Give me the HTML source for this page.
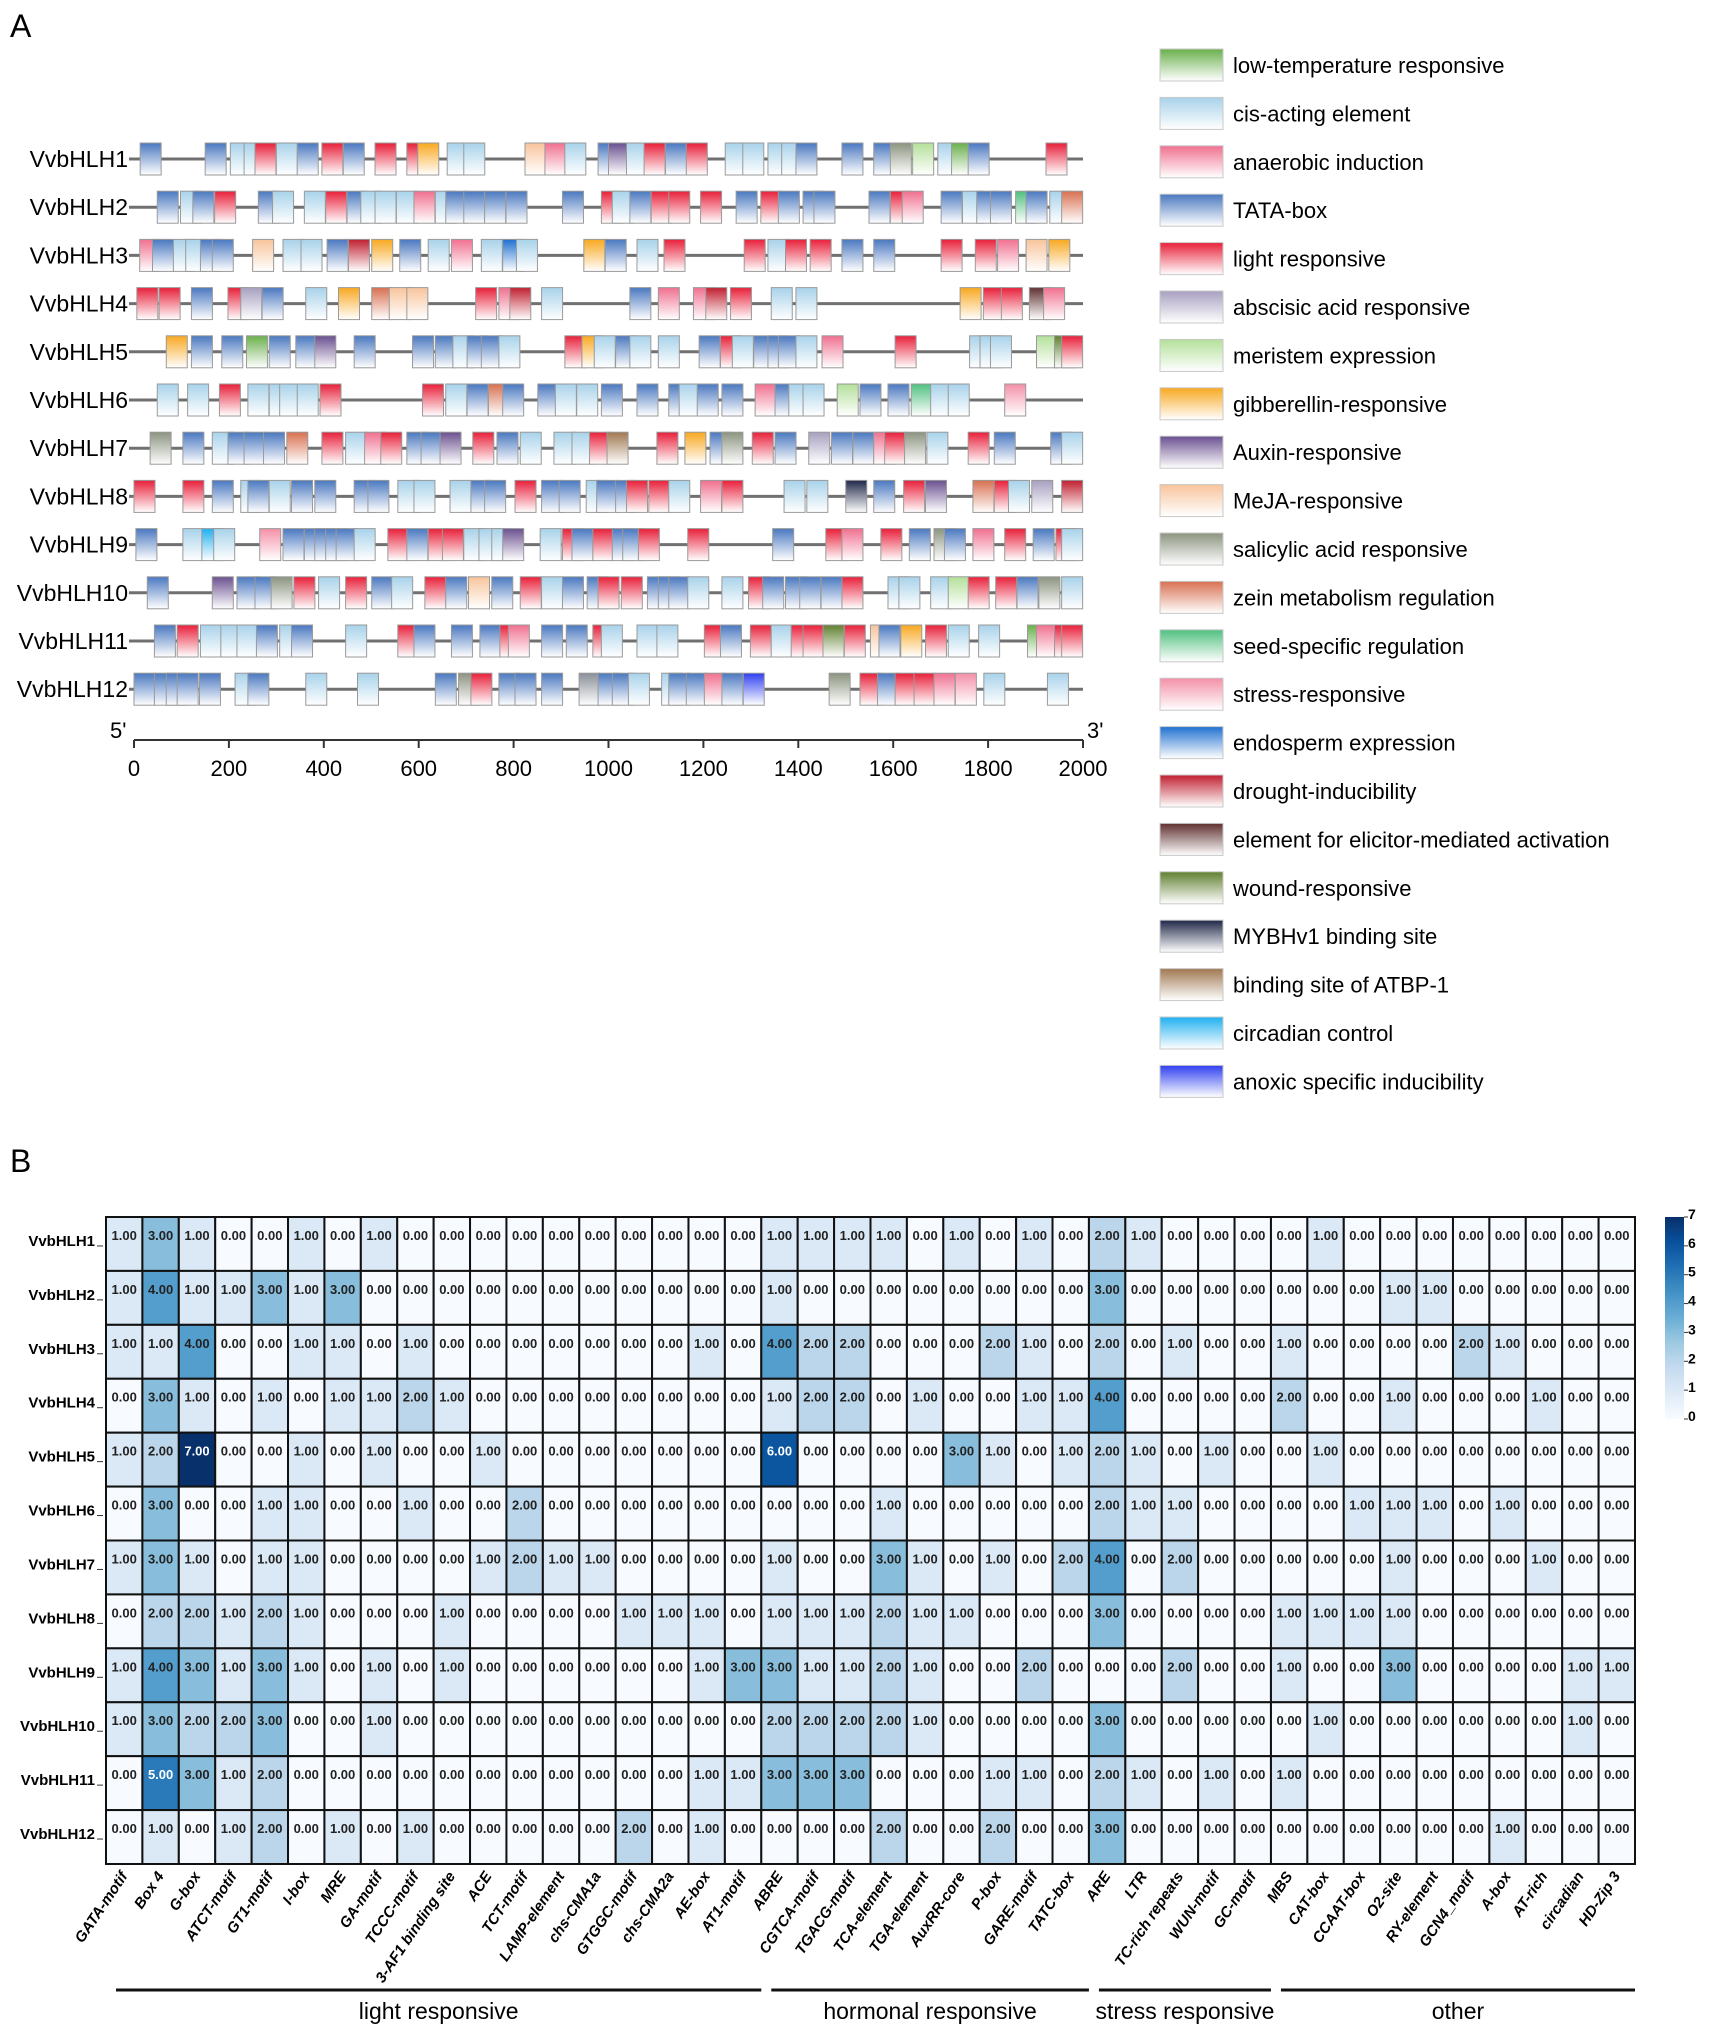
<!DOCTYPE html>
<html><head><meta charset="utf-8">
<style>
html,body{margin:0;padding:0;background:#fff;}
svg{display:block;font-family:"Liberation Sans",Arial,sans-serif;}
</style></head>
<body>
<svg id="fig" width="1713" height="2033" viewBox="0 0 1713 2033" xmlns="http://www.w3.org/2000/svg">
<defs id="defs"></defs>
<text x="10" y="37" font-size="32">A</text>
<text x="10" y="1172" font-size="32">B</text>
<g id="panelA"></g>
<g id="legend"></g>
<g id="panelB"></g>
</svg>
<script>
// ---------- Panel A data ----------
const genes = ["VvbHLH1","VvbHLH2","VvbHLH3","VvbHLH4","VvbHLH5","VvbHLH6","VvbHLH7","VvbHLH8","VvbHLH9","VvbHLH10","VvbHLH11","VvbHLH12"];
const axisTicks = [0,200,400,600,800,1000,1200,1400,1600,1800,2000];
const legendNames = ["low-temperature responsive","cis-acting element","anaerobic induction","TATA-box","light responsive","abscisic acid responsive","meristem expression","gibberellin-responsive","Auxin-responsive","MeJA-responsive","salicylic acid responsive","zein metabolism regulation","seed-specific regulation","stress-responsive","endosperm expression","drought-inducibility","element for elicitor-mediated activation","wound-responsive","MYBHv1 binding site","binding site of ATBP-1","circadian control","anoxic specific inducibility"];
const legendCodes = ["Lt","C","A","T","L","Ab","Me","G","X","M","S","Z","Sd","St","E","D","El","W","My","At","Ci","An"];
const typeColors = {Lt:"#6ab04c",C:"#a8d2ea",A:"#f07090",T:"#4a78c0",L:"#e8203a",Ab:"#a8a0c0",Me:"#b4e09a",G:"#f8a820",X:"#6a5090",M:"#f8c49c",S:"#8c9480",Z:"#d87050",Sd:"#50c080",St:"#f490a8",E:"#2070d0",D:"#c02030",El:"#603030",W:"#608030",My:"#202848",At:"#a07850",Ci:"#20b0f0",An:"#3040f0",Gr:"#8a9098"};
const el1 = [[13,"T"],[150,"T"],[203,"C"],[232,"C"],[255,"L"],[300,"C"],[344,"T"],[396,"L"],[441,"T"],[508,"L"],[575,"L"],[598,"G"],[660,"C"],[695,"C"],[824,"M"],[866,"A"],[908,"C"],[978,"T"],[1000,"X"],[1038,"C"],[1075,"L"],[1120,"T"],[1164,"L"],[1246,"C"],[1283,"C"],[1336,"C"],[1365,"C"],[1395,"T"],[1492,"T"],[1559,"T"],[1594,"S"],[1641,"Me"],[1694,"C"],[1723,"Lt"],[1758,"T"],[1922,"L"]];
const el2 = [[49,"T"],[98,"C"],[124,"T"],[170,"L"],[262,"T"],[292,"C"],[359,"C"],[404,"L"],[449,"T"],[478,"C"],[508,"C"],[553,"C"],[590,"A"],[635,"C"],[657,"T"],[695,"T"],[739,"T"],[784,"T"],[903,"T"],[985,"L"],[1008,"C"],[1045,"T"],[1090,"L"],[1127,"L"],[1194,"L"],[1269,"T"],[1321,"L"],[1358,"T"],[1410,"T"],[1433,"T"],[1549,"T"],[1594,"L"],[1619,"A"],[1701,"T"],[1746,"C"],[1776,"T"],[1805,"T"],[1858,"Sd"],[1880,"T"],[1930,"C"],[1955,"Z"]];
const el3 = [[12,"A"],[39,"T"],[83,"C"],[109,"C"],[140,"T"],[165,"T"],[250,"M"],[314,"C"],[352,"C"],[407,"T"],[452,"D"],[501,"G"],[560,"T"],[620,"C"],[669,"A"],[732,"C"],[777,"E"],[806,"C"],[948,"G"],[993,"T"],[1060,"C"],[1117,"L"],[1286,"L"],[1336,"C"],[1373,"L"],[1425,"L"],[1492,"T"],[1559,"T"],[1701,"L"],[1773,"L"],[1820,"A"],[1880,"M"],[1928,"G"]];
const el4 = [[6,"L"],[53,"L"],[121,"T"],[198,"L"],[225,"Ab"],[270,"T"],[362,"C"],[431,"G"],[501,"Z"],[538,"M"],[575,"M"],[720,"L"],[769,"A"],[792,"D"],[859,"C"],[1045,"T"],[1105,"A"],[1179,"A"],[1205,"D"],[1257,"L"],[1343,"C"],[1395,"C"],[1741,"G"],[1790,"L"],[1828,"L"],[1887,"El"],[1917,"A"]];
const el5 = [[68,"G"],[121,"T"],[185,"T"],[237,"Lt"],[285,"T"],[341,"T"],[381,"X"],[464,"T"],[587,"T"],[635,"T"],[672,"C"],[702,"T"],[732,"T"],[769,"C"],[908,"L"],[944,"G"],[970,"C"],[1015,"T"],[1045,"C"],[1105,"C"],[1191,"T"],[1236,"L"],[1261,"C"],[1306,"T"],[1336,"T"],[1358,"T"],[1395,"C"],[1450,"A"],[1604,"L"],[1761,"C"],[1783,"C"],[1805,"C"],[1902,"Me"],[1940,"W"],[1955,"L"]];
const el6 = [[49,"C"],[113,"C"],[180,"L"],[240,"C"],[285,"C"],[307,"C"],[344,"C"],[392,"L"],[608,"L"],[657,"C"],[702,"T"],[747,"Z"],[777,"T"],[851,"T"],[888,"C"],[933,"C"],[985,"T"],[1060,"T"],[1127,"T"],[1149,"C"],[1187,"T"],[1239,"T"],[1309,"A"],[1351,"T"],[1380,"C"],[1410,"C"],[1482,"Me"],[1530,"T"],[1589,"T"],[1638,"Sd"],[1679,"C"],[1716,"C"],[1835,"St"]];
const el7 = [[34,"S"],[103,"T"],[165,"C"],[198,"T"],[232,"T"],[273,"T"],[322,"Z"],[396,"L"],[446,"C"],[486,"A"],[520,"L"],[575,"T"],[605,"T"],[645,"X"],[714,"L"],[765,"T"],[814,"C"],[885,"C"],[923,"C"],[960,"L"],[997,"At"],[1102,"L"],[1161,"G"],[1214,"T"],[1239,"S"],[1303,"L"],[1351,"T"],[1422,"Ab"],[1470,"T"],[1515,"T"],[1559,"A"],[1582,"L"],[1624,"S"],[1671,"C"],[1758,"L"],[1813,"T"],[1932,"T"],[1955,"C"]];
const el8 = [[0,"L"],[103,"L"],[165,"T"],[225,"C"],[240,"T"],[285,"C"],[332,"T"],[381,"T"],[464,"T"],[493,"T"],[556,"C"],[590,"C"],[666,"C"],[710,"T"],[739,"T"],[803,"L"],[859,"T"],[896,"T"],[953,"C"],[975,"T"],[1015,"T"],[1038,"L"],[1085,"L"],[1127,"C"],[1194,"A"],[1239,"L"],[1370,"C"],[1418,"C"],[1500,"My"],[1559,"T"],[1622,"L"],[1668,"X"],[1768,"Z"],[1813,"L"],[1843,"C"],[1892,"Ab"],[1955,"D"]];
const el9 = [[4,"T"],[103,"C"],[143,"Ci"],[168,"C"],[265,"St"],[314,"T"],[359,"T"],[381,"T"],[404,"T"],[426,"T"],[464,"C"],[535,"L"],[575,"T"],[620,"L"],[650,"L"],[695,"C"],[727,"C"],[754,"C"],[777,"X"],[856,"C"],[903,"L"],[923,"T"],[967,"L"],[1008,"T"],[1030,"T"],[1063,"L"],[1167,"L"],[1346,"T"],[1458,"L"],[1492,"A"],[1574,"L"],[1634,"T"],[1686,"S"],[1708,"T"],[1768,"A"],[1835,"L"],[1895,"T"],[1943,"L"],[1955,"C"]];
const el10 = [[28,"T"],[165,"X"],[217,"T"],[255,"T"],[289,"S"],[337,"L"],[389,"C"],[446,"L"],[501,"T"],[543,"C"],[613,"L"],[657,"T"],[705,"M"],[754,"T"],[814,"L"],[859,"C"],[903,"T"],[955,"T"],[978,"L"],[1027,"L"],[1082,"T"],[1105,"T"],[1127,"T"],[1167,"C"],[1239,"C"],[1295,"L"],[1325,"T"],[1373,"T"],[1403,"T"],[1448,"T"],[1492,"L"],[1589,"C"],[1612,"C"],[1679,"C"],[1716,"Me"],[1758,"L"],[1816,"L"],[1861,"T"],[1907,"S"],[1955,"C"]];
const el11 = [[43,"T"],[91,"L"],[140,"C"],[183,"C"],[217,"C"],[258,"T"],[307,"C"],[332,"T"],[446,"C"],[556,"L"],[590,"T"],[669,"T"],[729,"T"],[771,"L"],[789,"A"],[859,"T"],[911,"T"],[967,"L"],[985,"C"],[1060,"C"],[1102,"C"],[1202,"L"],[1236,"T"],[1299,"L"],[1343,"C"],[1385,"L"],[1410,"L"],[1452,"W"],[1497,"L"],[1552,"M"],[1570,"T"],[1616,"G"],[1668,"L"],[1716,"C"],[1780,"C"],[1883,"Lt"],[1902,"A"],[1940,"L"],[1955,"L"]];
const el12 = [[0,"T"],[43,"T"],[68,"T"],[91,"T"],[138,"T"],[213,"C"],[240,"T"],[362,"C"],[471,"C"],[635,"T"],[684,"S"],[710,"L"],[769,"T"],[803,"T"],[859,"T"],[938,"Gr"],[978,"T"],[1008,"T"],[1042,"C"],[1112,"C"],[1127,"T"],[1164,"T"],[1202,"A"],[1239,"T"],[1284,"An"],[1465,"S"],[1530,"L"],[1567,"T"],[1604,"L"],[1644,"L"],[1686,"A"],[1731,"St"],[1791,"C"],[1925,"C"]];
const elements = [el1,el2,el3,el4,el5,el6,el7,el8,el9,el10,el11,el12];

// ---------- Panel B data ----------
const heatRows = ["VvbHLH1","VvbHLH2","VvbHLH3","VvbHLH4","VvbHLH5","VvbHLH6","VvbHLH7","VvbHLH8","VvbHLH9","VvbHLH10","VvbHLH11","VvbHLH12"];
const heatCols = ["GATA-motif","Box 4","G-box","ATCT-motif","GT1-motif","I-box","MRE","GA-motif","TCCC-motif","3-AF1 binding site","ACE","TCT-motif","LAMP-element","chs-CMA1a","GTGGC-motif","chs-CMA2a","AE-box","AT1-motif","ABRE","CGTCA-motif","TGACG-motif","TCA-element","TGA-element","AuxRR-core","P-box","GARE-motif","TATC-box","ARE","LTR","TC-rich repeats","WUN-motif","GC-motif","MBS","CAT-box","CCAAT-box","O2-site","RY-element","GCN4_motif","A-box","AT-rich","circadian","HD-Zip 3"];
const v1  = [1,3,1,0,0,1,0,1,0,0,0,0,0,0,0,0,0,0,1,1,1, 1,0,1,0,1,0,2,1,0,0,0,0,1,0,0,0,0,0,0,0,0];
const v2  = [1,4,1,1,3,1,3,0,0,0,0,0,0,0,0,0,0,0,1,0,0, 0,0,0,0,0,0,3,0,0,0,0,0,0,0,1,1,0,0,0,0,0];
const v3  = [1,1,4,0,0,1,1,0,1,0,0,0,0,0,0,0,1,0,4,2,2, 0,0,0,2,1,0,2,0,1,0,0,1,0,0,0,0,2,1,0,0,0];
const v4  = [0,3,1,0,1,0,1,1,2,1,0,0,0,0,0,0,0,0,1,2,2, 0,1,0,0,1,1,4,0,0,0,0,2,0,0,1,0,0,0,1,0,0];
const v5  = [1,2,7,0,0,1,0,1,0,0,1,0,0,0,0,0,0,0,6,0,0, 0,0,3,1,0,1,2,1,0,1,0,0,1,0,0,0,0,0,0,0,0];
const v6  = [0,3,0,0,1,1,0,0,1,0,0,2,0,0,0,0,0,0,0,0,0, 1,0,0,0,0,0,2,1,1,0,0,0,0,1,1,1,0,1,0,0,0];
const v7  = [1,3,1,0,1,1,0,0,0,0,1,2,1,1,0,0,0,0,1,0,0, 3,1,0,1,0,2,4,0,2,0,0,0,0,0,1,0,0,0,1,0,0];
const v8  = [0,2,2,1,2,1,0,0,0,1,0,0,0,0,1,1,1,0,1,1,1, 2,1,1,0,0,0,3,0,0,0,0,1,1,1,1,0,0,0,0,0,0];
const v9  = [1,4,3,1,3,1,0,1,0,1,0,0,0,0,0,0,1,3,3,1,1, 2,1,0,0,2,0,0,0,2,0,0,1,0,0,3,0,0,0,0,1,1];
const v10 = [1,3,2,2,3,0,0,1,0,0,0,0,0,0,0,0,0,0,2,2,2, 2,1,0,0,0,0,3,0,0,0,0,0,1,0,0,0,0,0,0,1,0];
const v11 = [0,5,3,1,2,0,0,0,0,0,0,0,0,0,0,0,1,1,3,3,3, 0,0,0,1,1,0,2,1,0,1,0,1,0,0,0,0,0,0,0,0,0];
const v12 = [0,1,0,1,2,0,1,0,1,0,0,0,0,0,2,0,1,0,0,0,0, 2,0,0,2,0,0,3,0,0,0,0,0,0,0,0,0,0,1,0,0,0];
const heatValues = [v1,v2,v3,v4,v5,v6,v7,v8,v9,v10,v11,v12];
const colorbarTicks = [0,1,2,3,4,5,6,7];
const groupNames = ["light responsive","hormonal responsive","stress  responsive","other"];
const groupStartCol = [0,18,27,32];
const groupEndCol = [17,26,31,41];

const NS="http://www.w3.org/2000/svg";
function mk(tag, attrs, parent){const e=document.createElementNS(NS,tag);for(const k in attrs)e.setAttribute(k,attrs[k]);parent.appendChild(e);return e;}
const defs=document.getElementById('defs');
for(const code in typeColors){
  const g=mk('linearGradient',{id:'g_'+code,x1:0,y1:0,x2:0,y2:1},defs);
  mk('stop',{offset:'0','stop-color':typeColors[code]},g);
  mk('stop',{offset:'1','stop-color':'#ffffff'},g);
}

// ---------- Panel A ----------
const A=document.getElementById('panelA');
const ax0=134, ax1=1083, bpMax=2000;
const xA = bp => ax0 + bp/bpMax*(ax1-ax0);
const rowY = i => 159 + i*48.2;
const boxW = 21, boxH = 32;
genes.forEach((gname,i)=>{
  const y=rowY(i);
  const row=mk('g',{},A);
  
  
  const t=mk('text',{x:128,y:y+8,'font-size':23,'text-anchor':'end'},row);
  t.textContent=gname;
  
  
  const ln=mk('line',{x1:129,x2:xA(2000),y1:y,y2:y,stroke:'#707070','stroke-width':3},row);
  
  
  elements[i].forEach(([bp,code])=>{
    const r=mk('rect',{x:xA(bp),y:y-boxH/2,width:boxW,height:boxH,fill:'url(#g_'+code+')',stroke:'#9a9a9a','stroke-width':1},row);
    
    
  });
});
const axY=740;
const axg=mk('g',{},A);


mk('line',{x1:ax0,x2:ax1,y1:axY,y2:axY,stroke:'#333','stroke-width':2},axg);
axisTicks.forEach(v=>{
  mk('line',{x1:xA(v),x2:xA(v),y1:axY,y2:axY+8,stroke:'#333','stroke-width':2},axg);
  const t=mk('text',{x:xA(v),y:axY+36,'font-size':22,'text-anchor':'middle'},axg);
  t.textContent=v;
  
  
});
const t5=mk('text',{x:ax0-24,y:axY-2,'font-size':22},axg);t5.textContent="5'";


const t3=mk('text',{x:ax1+4,y:axY-2,'font-size':22},axg);t3.textContent="3'";



// ---------- Legend ----------
const L=document.getElementById('legend');
legendNames.forEach((nm,i)=>{
  const cy=65+i*48.4;
  const g=mk('g',{},L);
  
  
  mk('rect',{x:1160,y:cy-16,width:63,height:32,fill:'url(#g_'+legendCodes[i]+')',stroke:'#c8c8c8','stroke-width':1},g);
  const t=mk('text',{x:1233,y:cy+8,'font-size':22},g);
  t.textContent=nm;
});

// ---------- Panel B ----------
const B=document.getElementById('panelB');
const hx0=106, hx1=1635, hy0=1217, hy1=1864;
const cw=(hx1-hx0)/heatCols.length, ch=(hy1-hy0)/heatRows.length;
const stops=["#f7fbff","#deebf7","#c6dbef","#9ecae1","#6baed6","#4292c6","#2171b5","#08519c","#08306b"];
function hex(c){return [1,3,5].map(k=>parseInt(c.substr(k,2),16));}
function blues(v){const t=Math.max(0,Math.min(1,v/7))*(stops.length-1);const i=Math.min(Math.floor(t),stops.length-2);const f=t-i;const a=hex(stops[i]),b=hex(stops[i+1]);return 'rgb('+a.map((x,k)=>Math.round(x+(b[k]-x)*f)).join(',')+')';}
heatRows.forEach((rn,r)=>{
  const y=hy0+r*ch;
  const t=mk('text',{x:95,y:y+ch/2+2,'font-size':15,'font-weight':'bold','text-anchor':'end'},B);
  t.textContent=rn;
  
  
  mk('line',{x1:97,x2:103,y1:y+ch/2+2,y2:y+ch/2+2,stroke:'#333','stroke-width':1},B);
  heatValues[r].forEach((v,c)=>{
    const x=hx0+c*cw;
    const cell=mk('rect',{x:x,y:y,width:cw,height:ch,fill:blues(v),stroke:'#111','stroke-width':2},B);
    
    
    const tv=mk('text',{x:x+cw/2,y:y+ch/2-4,'font-size':13,'font-weight':'bold','text-anchor':'middle',fill:v>=5?'#fff':'#222'},B);
    tv.textContent=v.toFixed(2);
    
    
  });
});
heatCols.forEach((cn,c)=>{
  const x=hx0+(c+0.5)*cw+4, y=hy1+12;
  const t=mk('text',{x:x,y:y,'font-size':15,'font-weight':'bold','font-style':'italic','text-anchor':'end',transform:'rotate(-56 '+x+' '+y+')'},B);
  t.textContent=cn;
  
  
});
groupNames.forEach((gn,i)=>{
  const xa=hx0+groupStartCol[i]*cw+10, xb=hx0+(groupEndCol[i]+1)*cw;
  const ln=mk('line',{x1:xa,x2:xb,y1:1990,y2:1990,stroke:'#111','stroke-width':3},B);
  
  
  const t=mk('text',{x:(xa+xb)/2,y:2019,'font-size':23,'text-anchor':'middle'},B);
  t.textContent=gn;
  
  
});
// colorbar
const cbx=1665, cbw=19, cby0=1217, cby1=1419;
const cbg=mk('linearGradient',{id:'cbgrad',x1:0,y1:1,x2:0,y2:0},defs);
stops.forEach((s,i)=>mk('stop',{offset:(i/(stops.length-1)).toFixed(3),'stop-color':s},cbg));
const cb=mk('rect',{x:cbx,y:cby0,width:cbw,height:cby1-cby0,fill:'url(#cbgrad)'},B);


colorbarTicks.forEach(v=>{
  const y=cby1-v/7*(cby1-cby0);
  mk('line',{x1:cbx+cbw,x2:cbx+cbw+4,y1:y,y2:y,stroke:'#333','stroke-width':1},B);
  const t=mk('text',{x:cbx+cbw+4,y:y+2,'font-size':14,'font-weight':'bold'},B);
  t.textContent=v;
  
  
});
</script>
</body></html>
